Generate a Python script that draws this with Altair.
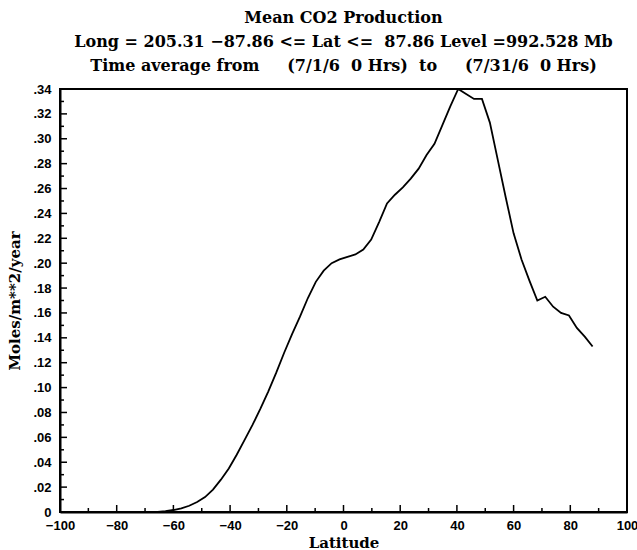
import altair as alt
import pandas as pd

# Gaussian-grid latitudes (degrees) and zonal-mean CO2 production (moles/m**2/year)
latitude = [-68.37, -65.58, -62.79, -60.00, -57.21, -54.42, -51.63, -48.84, -46.04,
            -43.25, -40.46, -37.67, -34.88, -32.09, -29.30, -26.51, -23.72, -20.93,
            -18.14, -15.35, -12.56, -9.77, -6.98, -4.19, -1.40, 1.40, 4.19, 6.98,
            9.77, 12.56, 15.35, 18.14, 20.93, 23.72, 26.51, 29.30, 32.09, 34.88,
            37.67, 40.46, 43.25, 46.04, 48.84, 51.63, 54.42, 57.21, 60.00, 62.79,
            65.58, 68.37, 71.16, 73.95, 76.74, 79.53, 82.31, 85.10, 87.86]
co2 = [0.0, 0.0001, 0.0006, 0.0016, 0.003, 0.005, 0.008, 0.012, 0.018,
       0.026, 0.035, 0.046, 0.058, 0.070, 0.083, 0.097, 0.112, 0.128,
       0.143, 0.157, 0.172, 0.185, 0.194, 0.200, 0.203, 0.205, 0.207, 0.211,
       0.219, 0.233, 0.248, 0.255, 0.261, 0.268, 0.276, 0.287, 0.296, 0.311,
       0.326, 0.340, 0.336, 0.332, 0.332, 0.313, 0.283, 0.253, 0.224, 0.203,
       0.186, 0.170, 0.173, 0.165, 0.160, 0.158, 0.148, 0.141, 0.133]

x_major = [-100, -80, -60, -40, -20, 0, 20, 40, 60, 80, 100]
x_minor = [-90, -70, -50, -30, -10, 10, 30, 50, 70, 90]
y_major = [0, 0.02, 0.04, 0.06, 0.08, 0.10, 0.12, 0.14, 0.16, 0.18, 0.20,
           0.22, 0.24, 0.26, 0.28, 0.30, 0.32, 0.34]
y_minor = [0.01, 0.03, 0.05, 0.07, 0.09, 0.11, 0.13, 0.15, 0.17, 0.19, 0.21,
           0.23, 0.25, 0.27, 0.29, 0.31, 0.33]

W, H = 567, 423
SERIF = "DejaVu Serif"
SANS = "Liberation Sans"

df = pd.DataFrame({"lat": latitude, "co2": co2})

xscale = alt.Scale(domain=[-100, 100], nice=False, zero=False)
yscale = alt.Scale(domain=[0, 0.34], nice=False)

xaxis = alt.Axis(values=x_major, ticks=False, grid=False,
                 title="Latitude", titleFont=SERIF, titleFontSize=15,
                 titleFontWeight="bold", titleColor="black", titlePadding=3,
                 labelFont=SANS, labelFontSize=13, labelFontWeight="bold",
                 labelColor="black", labelPadding=7, labelFlush=False,
                 labelOverlap=False, domainColor="black", domainWidth=2)
yaxis = alt.Axis(values=y_major, ticks=False, grid=False,
                 labelExpr="datum.value == 0 ? '0' : replace(format(datum.value, '.2f'), '0.', '.')",
                 title="Moles/m**2/year", titleFont=SERIF, titleFontSize=15,
                 titleFontWeight="bold", titleColor="black", titlePadding=10,
                 labelFont=SANS, labelFontSize=13, labelFontWeight="bold",
                 labelColor="black", labelPadding=9, labelFlush=False,
                 labelOverlap=False, domainColor="black", domainWidth=2)

line = alt.Chart(df).mark_line(color="black", strokeWidth=1.8, clip=True).encode(
    x=alt.X("lat:Q", scale=xscale, axis=xaxis),
    y=alt.Y("co2:Q", scale=yscale, axis=yaxis),
)

def xticks(vals, length):
    return alt.Chart(pd.DataFrame({"lat": vals})).mark_rule(color="black", strokeWidth=1.5).encode(
        x=alt.X("lat:Q", scale=xscale, axis=xaxis),
        y=alt.value(H),
        y2=alt.value(H - length),
    )

def yticks(vals, length):
    return alt.Chart(pd.DataFrame({"co2": vals})).mark_rule(color="black", strokeWidth=1.5).encode(
        y=alt.Y("co2:Q", scale=yscale, axis=yaxis),
        x=alt.value(0),
        x2=alt.value(length),
    )

title_lines = [
    "Mean CO2 Production",
    "Long = 205.31 \u221287.86 <= Lat <=\u00a0\u00a087.86 Level =992.528 Mb",
    "Time average from\u00a0\u00a0\u00a0\u00a0\u00a0(7/1/6\u00a0\u00a00 Hrs)\u00a0\u00a0to\u00a0\u00a0\u00a0\u00a0\u00a0(7/31/6\u00a0\u00a00 Hrs)",
]

chart = alt.layer(
    line,
    xticks(x_major, 7), xticks(x_minor, 4),
    yticks(y_major, 7), yticks(y_minor, 4),
).properties(
    width=W, height=H,
    title=alt.TitleParams(title_lines, font=SERIF, fontSize=16, fontWeight="bold",
                          color="black", lineHeight=24, anchor="middle", offset=9),
    autosize=alt.AutoSizeParams(type="none"),
    padding={"left": 60, "top": 89, "right": 10, "bottom": 38},
    background="white",
).configure_view(stroke="black", strokeWidth=2)

chart.save("out.html", embed_options={"renderer": "svg", "actions": False})
